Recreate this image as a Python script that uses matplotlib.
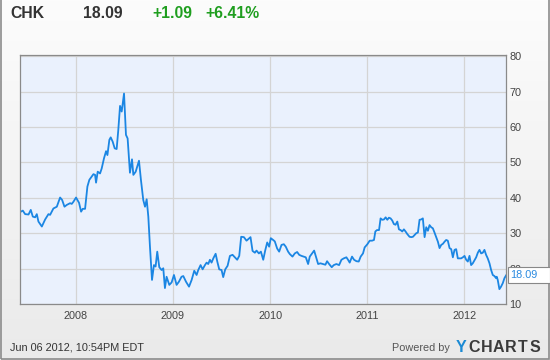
import numpy as np
import matplotlib
matplotlib.use("Agg")
import matplotlib.pyplot as plt
from matplotlib.patches import Rectangle
from matplotlib.colors import LinearSegmentedColormap

plt.rcParams['font.family'] = ['Liberation Sans', 'DejaVu Sans']

# CHK weekly-ish close (decimal year, price)
years = [2007.420, 2007.454, 2007.478, 2007.513, 2007.536, 2007.557, 2007.581, 2007.598,
         2007.615, 2007.650, 2007.684, 2007.718, 2007.735, 2007.769, 2007.804, 2007.838,
         2007.859, 2007.883, 2007.906, 2007.941, 2007.958, 2007.975, 2008.002, 2008.033,
         2008.054, 2008.071, 2008.095, 2008.119, 2008.139, 2008.163, 2008.181, 2008.198,
         2008.208, 2008.225, 2008.249, 2008.266, 2008.290, 2008.311, 2008.325, 2008.345,
         2008.359, 2008.379, 2008.400, 2008.420, 2008.437, 2008.455, 2008.472, 2008.496,
         2008.516, 2008.533, 2008.557, 2008.578, 2008.592, 2008.616, 2008.650, 2008.670,
         2008.694, 2008.712, 2008.729, 2008.746, 2008.763, 2008.784, 2008.804, 2008.821,
         2008.838, 2008.859, 2008.883, 2008.900, 2008.917, 2008.934, 2008.962, 2008.986,
         2009.010, 2009.037, 2009.061, 2009.088, 2009.106, 2009.134, 2009.165, 2009.192,
         2009.219, 2009.243, 2009.260, 2009.284, 2009.305, 2009.329, 2009.346, 2009.363,
         2009.380, 2009.397, 2009.415, 2009.439, 2009.456, 2009.476, 2009.500, 2009.517,
         2009.538, 2009.562, 2009.586, 2009.613, 2009.637, 2009.661, 2009.682, 2009.702,
         2009.730, 2009.757, 2009.774, 2009.798, 2009.819, 2009.843, 2009.860, 2009.884,
         2009.905, 2009.929, 2009.949, 2009.970, 2009.990, 2010.007, 2010.031, 2010.048,
         2010.072, 2010.093, 2010.117, 2010.141, 2010.161, 2010.185, 2010.203, 2010.230,
         2010.254, 2010.278, 2010.299, 2010.323, 2010.346, 2010.367, 2010.391, 2010.408,
         2010.429, 2010.453, 2010.477, 2010.494, 2010.518, 2010.545, 2010.569, 2010.586,
         2010.607, 2010.634, 2010.655, 2010.682, 2010.710, 2010.734, 2010.758, 2010.785,
         2010.802, 2010.819, 2010.843, 2010.864, 2010.888, 2010.912, 2010.932, 2010.956,
         2010.973, 2011.001, 2011.025, 2011.049, 2011.069, 2011.083, 2011.100, 2011.121,
         2011.137, 2011.154, 2011.172, 2011.189, 2011.206, 2011.223, 2011.240, 2011.257,
         2011.274, 2011.291, 2011.309, 2011.326, 2011.343, 2011.360, 2011.377, 2011.394,
         2011.411, 2011.435, 2011.453, 2011.470, 2011.487, 2011.504, 2011.521, 2011.538,
         2011.555, 2011.572, 2011.590, 2011.607, 2011.624, 2011.641, 2011.658, 2011.675,
         2011.692, 2011.709, 2011.727, 2011.744, 2011.761, 2011.778, 2011.795, 2011.812,
         2011.829, 2011.847, 2011.864, 2011.881, 2011.898, 2011.915, 2011.932, 2011.949,
         2011.966, 2011.984, 2012.001, 2012.018, 2012.035, 2012.052, 2012.069, 2012.086,
         2012.103, 2012.121, 2012.138, 2012.155, 2012.172, 2012.189, 2012.206, 2012.223,
         2012.240, 2012.258, 2012.275, 2012.292, 2012.309, 2012.326, 2012.333, 2012.343,
         2012.360, 2012.377, 2012.395, 2012.412, 2012.429]
prices = [35.9, 36.4, 35.4, 35.3, 36.6, 34.7, 34.5, 35.4,
          33.3, 31.9, 33.9, 35.4, 35.2, 37.0, 37.5, 40.1,
          39.4, 37.5, 38.0, 38.5, 38.3, 38.9, 40.1, 38.6,
          36.1, 36.9, 36.9, 43.2, 45.1, 46.0, 46.7, 46.5,
          44.3, 47.4, 46.9, 48.3, 51.2, 53.2, 52.1, 56.4,
          57.1, 55.9, 54.0, 53.8, 59.2, 66.0, 64.4, 69.5,
          57.8, 56.8, 47.1, 50.9, 46.5, 47.4, 50.5, 45.1,
          39.4, 37.5, 39.6, 34.7, 26.2, 16.8, 21.0, 20.6,
          24.8, 20.4, 19.6, 20.1, 14.5, 17.7, 15.4, 16.1,
          18.2, 15.4, 16.3, 17.7, 17.9, 16.3, 14.9, 16.8,
          19.4, 18.2, 19.6, 21.0, 19.8, 21.0, 21.7, 21.3,
          22.5, 21.7, 22.9, 24.2, 22.0, 19.8, 19.6, 17.6,
          19.8, 20.8, 23.6, 23.9, 23.2, 22.5, 23.6, 29.0,
          28.9, 27.9, 28.3, 28.9, 25.0, 24.5, 25.1, 24.3,
          24.8, 22.5, 25.1, 27.4, 26.2, 28.6, 28.1, 27.7,
          25.7, 24.8, 26.7, 26.9, 26.2, 24.8, 24.1, 23.4,
          24.3, 24.7, 23.9, 23.6, 23.4, 23.2, 21.3, 23.4,
          24.2, 25.1, 22.9, 21.3, 21.5, 21.3, 21.1, 22.1,
          21.3, 20.4, 21.0, 21.3, 21.0, 22.5, 22.9, 23.2,
          22.5, 21.7, 23.4, 22.5, 22.1, 22.0, 23.4, 24.3,
          26.0, 26.9, 27.9, 27.9, 28.1, 30.5, 30.9, 30.9,
          34.2, 33.8, 33.9, 34.5, 33.8, 34.4, 34.2, 33.6,
          32.6, 32.4, 33.3, 31.1, 30.9, 30.5, 31.1, 30.5,
          29.8, 29.0, 28.9, 29.0, 29.5, 30.0, 30.2, 33.8,
          33.9, 34.2, 28.9, 31.7, 30.7, 32.3, 31.7, 31.4,
          30.2, 28.9, 27.6, 25.8, 26.7, 27.0, 27.6, 28.1,
          27.9, 25.8, 25.5, 23.2, 25.3, 25.5, 22.9, 22.9,
          22.9, 23.2, 23.6, 22.5, 22.0, 23.6, 21.0, 21.5,
          22.3, 23.2, 24.5, 25.3, 24.3, 24.5, 25.3, 23.9,
          22.9, 21.5, 19.6, 18.2, 17.9, 17.3, 17.7, 16.8,
          14.2, 14.9, 15.9, 17.3, 18.09]

year_ticks = [2008, 2009, 2010, 2011, 2012]
price_ticks = [10, 20, 30, 40, 50, 60, 70, 80]

W, H = 550, 360
fig = plt.figure(figsize=(W / 100, H / 100), dpi=100)


def fx(px):
    return px / W


def fy(py):
    return 1 - py / H


# panel background gradient
bg = fig.add_axes([0, 0, 1, 1], zorder=-5)
cmap = LinearSegmentedColormap.from_list('bg', ['#fcfcfc', '#eaeaea'])
bg.imshow(np.linspace(0, 1, 200).reshape(-1, 1), aspect='auto', cmap=cmap,
          extent=[0, 1, 0, 1])
bg.add_patch(Rectangle((0.001, 0.002), 0.997, 1.2, fill=False, edgecolor='#8c8c8c',
                       linewidth=1.2, transform=bg.transAxes))
bg.set_xlim(0, 1)
bg.set_ylim(0, 1)
bg.axis('off')

ax = fig.add_axes([fx(19.5), fy(304), fx(506) - fx(19.5), fy(55.3) - fy(304)])
ax.set_facecolor('#eaf1fd')
ax.plot(years, prices, color='#1b86e3', linewidth=1.3, solid_joinstyle='round')

ax.set_xlim(2007.42, 2012.428)
ax.set_ylim(10, 80.3)
ax.set_xticks(year_ticks)
ax.set_xticklabels([str(y) for y in year_ticks])
ax.set_yticks(price_ticks)
ax.yaxis.tick_right()
ax.grid(True, color='#d4d4d4', linewidth=0.9)
ax.set_axisbelow(True)
ax.tick_params(axis='both', length=0, labelsize=7.8, labelcolor='#444444')
ax.tick_params(axis='x', pad=5)
ax.tick_params(axis='y', pad=2.5)
for s in ax.spines.values():
    s.set_color('#8a8a8a')
    s.set_linewidth(0.9)

# header
fig.text(fx(10), fy(14), 'CHK', fontsize=11.3, fontweight='bold', color='#333333', va='center')
fig.text(fx(83), fy(14), '18.09', fontsize=11.3, fontweight='bold', color='#333333', va='center')
fig.text(fx(152), fy(14), '+1.09', fontsize=11.3, fontweight='bold', color='#1f9e1f', va='center')
fig.text(fx(205), fy(14), '+6.41%', fontsize=11.3, fontweight='bold', color='#1f9e1f', va='center')

# last price box, running to the right edge
fig.add_artist(Rectangle((fx(508), fy(283)), fx(549.5) - fx(508), fy(267) - fy(283),
                         transform=fig.transFigure, facecolor='white', edgecolor='#888888',
                         linewidth=0.8, zorder=9))
fig.text(fx(510.5), fy(275), '18.09', fontsize=7.8, color='#2a8ae0', va='center', ha='left',
         zorder=10)

# footer
fig.text(fx(10), fy(348), 'Jun 06 2012, 10:54PM EDT', fontsize=7.8, color='#333333', va='center')
fig.text(fx(392), fy(348), 'Powered by', fontsize=7.8, color='#555555', va='center')
fig.text(fx(461), fy(347), 'Y', fontsize=11.5, fontweight='bold', color='#1a8ad4',
         va='center', ha='center')
for i, ch in enumerate('CHARTS'):
    fig.text(fx(474 + i * 12.2), fy(347), ch, fontsize=11.5, fontweight='bold',
             color='#3a3a3a', va='center', ha='center')

fig.savefig('out.png', dpi=100)
